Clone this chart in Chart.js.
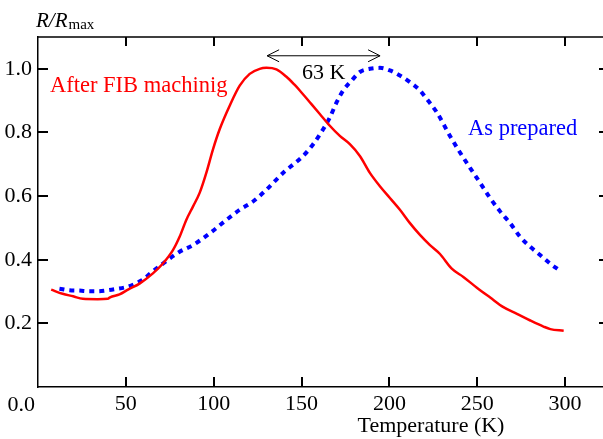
<!DOCTYPE html>
<html>
<head>
<meta charset="utf-8">
<script src="https://cdn.jsdelivr.net/npm/chart.js@4/dist/chart.umd.min.js"></script>
<style>
html,body{margin:0;padding:0;background:#fff;overflow:hidden;}
#wrap{position:absolute;left:0;top:0;width:615px;height:439px;}
</style>
</head>
<body>
<div id="wrap"><canvas id="c" width="615" height="439"></canvas></div>
<script>
// ---- data ----
const xTickValues = [0, 50, 100, 150, 200, 250, 300];
const yTickValues = [0, 0.2, 0.4, 0.6, 0.8, 1.0];

const fibTemp = [7.5, 14, 20, 25.5, 34, 39.7, 41, 46.4, 51.5, 57.8, 65.4, 71.1, 76.8, 80.6, 84.4, 88.2, 92, 95.8, 99.6, 103.4, 109.1, 114.8, 120.5, 126.2, 130, 135.7, 141.4, 146, 149, 154.7, 160.4, 166.1, 171.8, 177.5, 183.2, 188.9, 194.6, 200.3, 206, 211.7, 217.4, 223.1, 228.8, 235.5, 242.1, 249.8, 257.4, 264.9, 272.6, 280.2, 287.7, 291.6, 299.2];
const fibR    = [0.306, 0.293, 0.285, 0.277, 0.276, 0.277, 0.282, 0.291, 0.307, 0.325, 0.357, 0.388, 0.430, 0.472, 0.525, 0.567, 0.610, 0.673, 0.747, 0.810, 0.884, 0.947, 0.984, 1.0, 1.003, 0.998, 0.975, 0.950, 0.932, 0.895, 0.858, 0.821, 0.789, 0.763, 0.726, 0.673, 0.631, 0.594, 0.557, 0.515, 0.478, 0.446, 0.418, 0.372, 0.346, 0.312, 0.281, 0.251, 0.230, 0.209, 0.190, 0.182, 0.177];

const prepTemp = [12.2, 17.9, 23.6, 29.3, 34, 39.7, 44.5, 50.2, 55.9, 60.7, 63.5, 71.1, 80.6, 88.2, 97.7, 107.2, 114.8, 122.4, 130, 135.7, 140.5, 145.2, 150.9, 156.6, 162.3, 166.1, 170, 173.7, 178.5, 183.2, 188.9, 194.6, 200.3, 206, 211.7, 217.4, 221.3, 227, 234.5, 240.2, 245.9, 251.6, 257.3, 263, 268.7, 274.4, 280.1, 285.8, 291.5, 297.2];
const prepR    = [0.309, 0.304, 0.303, 0.301, 0.301, 0.304, 0.308, 0.314, 0.326, 0.341, 0.355, 0.388, 0.425, 0.446, 0.483, 0.525, 0.557, 0.583, 0.620, 0.652, 0.678, 0.699, 0.726, 0.763, 0.810, 0.847, 0.895, 0.932, 0.963, 0.990, 1.0, 1.003, 0.995, 0.979, 0.958, 0.932, 0.905, 0.863, 0.789, 0.737, 0.689, 0.642, 0.594, 0.552, 0.515, 0.472, 0.441, 0.415, 0.388, 0.365];

const seriesNames = ['After FIB machinig', 'As prepared'];
const arrowFrom = 130.4, arrowTo = 194.7, arrowLevel = 1.041;
const arrowLabel = '63 K';

const FONT = '"Liberation Serif", "Times New Roman", serif';

const overlay = {
  id: 'overlay',
  afterDraw(chart) {
    const ctx = chart.ctx;
    const xs = chart.scales.x, ys = chart.scales.y;
    const a = chart.chartArea;
    ctx.save();
    // inward ticks on all four sides
    ctx.strokeStyle = '#000';
    ctx.lineWidth = 2;
    ctx.beginPath();
    xTickValues.forEach(v => {
      if (v === 0) return;
      const px = Math.round(xs.getPixelForValue(v));
      ctx.moveTo(px, a.bottom); ctx.lineTo(px, a.bottom - 10);
      ctx.moveTo(px, a.top); ctx.lineTo(px, a.top + 9);
    });
    yTickValues.forEach(v => {
      if (v === 0) return;
      const py = Math.round(ys.getPixelForValue(v));
      ctx.moveTo(a.left, py); ctx.lineTo(a.left + 10, py);
      ctx.moveTo(a.right, py); ctx.lineTo(a.right - 10, py);
    });
    ctx.stroke();
    // top and right frame
    ctx.lineWidth = 1.5;
    ctx.beginPath();
    ctx.moveTo(a.left, a.top); ctx.lineTo(a.right, a.top); ctx.lineTo(a.right, a.bottom);
    ctx.stroke();

    // "0.0" corner label
    ctx.fillStyle = '#000';
    ctx.font = '22px ' + FONT;
    ctx.textAlign = 'right';
    ctx.textBaseline = 'alphabetic';
    ctx.fillText('0.0', 35, 411);

    // x axis title
    ctx.textAlign = 'center';
    ctx.fillText('Temperature (K)', 431, 432);

    // y axis title R/Rmax
    ctx.textAlign = 'left';
    ctx.font = 'italic 21px ' + FONT;
    ctx.fillText('R/R', 36, 27);
    const w = ctx.measureText('R/R').width;
    ctx.font = '15px ' + FONT;
    ctx.fillText('max', 36 + w + 1, 29);

    // series labels
    ctx.font = '22.5px ' + FONT;
    ctx.fillStyle = '#ff0000';
    ctx.fillText(seriesNames[0], 50, 92);
    ctx.fillStyle = '#0000ff';
    ctx.fillText(seriesNames[1], 468, 135);

    // arrow
    const x1 = xs.getPixelForValue(arrowFrom), x2 = xs.getPixelForValue(arrowTo);
    const y = ys.getPixelForValue(arrowLevel);
    ctx.strokeStyle = '#000';
    ctx.lineWidth = 1;
    ctx.beginPath();
    ctx.moveTo(x1, y); ctx.lineTo(x2, y);
    ctx.moveTo(x1 + 12, y - 6); ctx.lineTo(x1, y); ctx.lineTo(x1 + 12, y + 6);
    ctx.moveTo(x2 - 12, y - 6); ctx.lineTo(x2, y); ctx.lineTo(x2 - 12, y + 6);
    ctx.stroke();
    ctx.fillStyle = '#000';
    ctx.font = '22px ' + FONT;
    ctx.fillText(arrowLabel, 302, 79);
    ctx.restore();
  }
};

new Chart(document.getElementById('c'), {
  type: 'line',
  data: {
    datasets: [
      {
        label: seriesNames[0],
        data: fibTemp.map((t, i) => ({x: t, y: fibR[i]})),
        borderColor: '#ff0000',
        borderWidth: 2.5,
        pointRadius: 0,
        cubicInterpolationMode: 'monotone',
        fill: false
      },
      {
        label: seriesNames[1],
        data: prepTemp.map((t, i) => ({x: t, y: prepR[i]})),
        borderColor: '#0000ff',
        borderWidth: 4,
        borderDash: [5, 5],
        borderCapStyle: 'butt',
        pointRadius: 0,
        cubicInterpolationMode: 'monotone',
        fill: false
      }
    ]
  },
  options: {
    responsive: false,
    animation: false,
    events: [],
    layout: {padding: {left: 0, top: 37, right: 6, bottom: 0}},
    plugins: {legend: {display: false}, tooltip: {enabled: false}},
    scales: {
      x: {
        type: 'linear',
        min: 0,
        max: 325,
        afterBuildTicks: s => { s.ticks = xTickValues.map(v => ({value: v})); },
        afterFit: s => { s.height = 52; },
        grid: {display: false, drawTicks: false},
        border: {display: true, color: '#000', width: 1.5},
        ticks: {
          color: '#000',
          font: {family: FONT, size: 22},
          padding: 4,
          maxRotation: 0,
          autoSkip: false,
          callback: v => v === 0 ? '' : String(v)
        }
      },
      y: {
        min: 0,
        max: 1.1,
        afterBuildTicks: s => { s.ticks = yTickValues.map(v => ({value: v})); },
        afterFit: s => { s.width = 38; },
        grid: {display: false, drawTicks: false},
        border: {display: true, color: '#000', width: 1.5},
        ticks: {
          color: '#000',
          font: {family: FONT, size: 22},
          padding: 6,
          autoSkip: false,
          callback: v => v === 0 ? '' : v.toFixed(1)
        }
      }
    }
  },
  plugins: [overlay]
});
</script>
</body>
</html>
